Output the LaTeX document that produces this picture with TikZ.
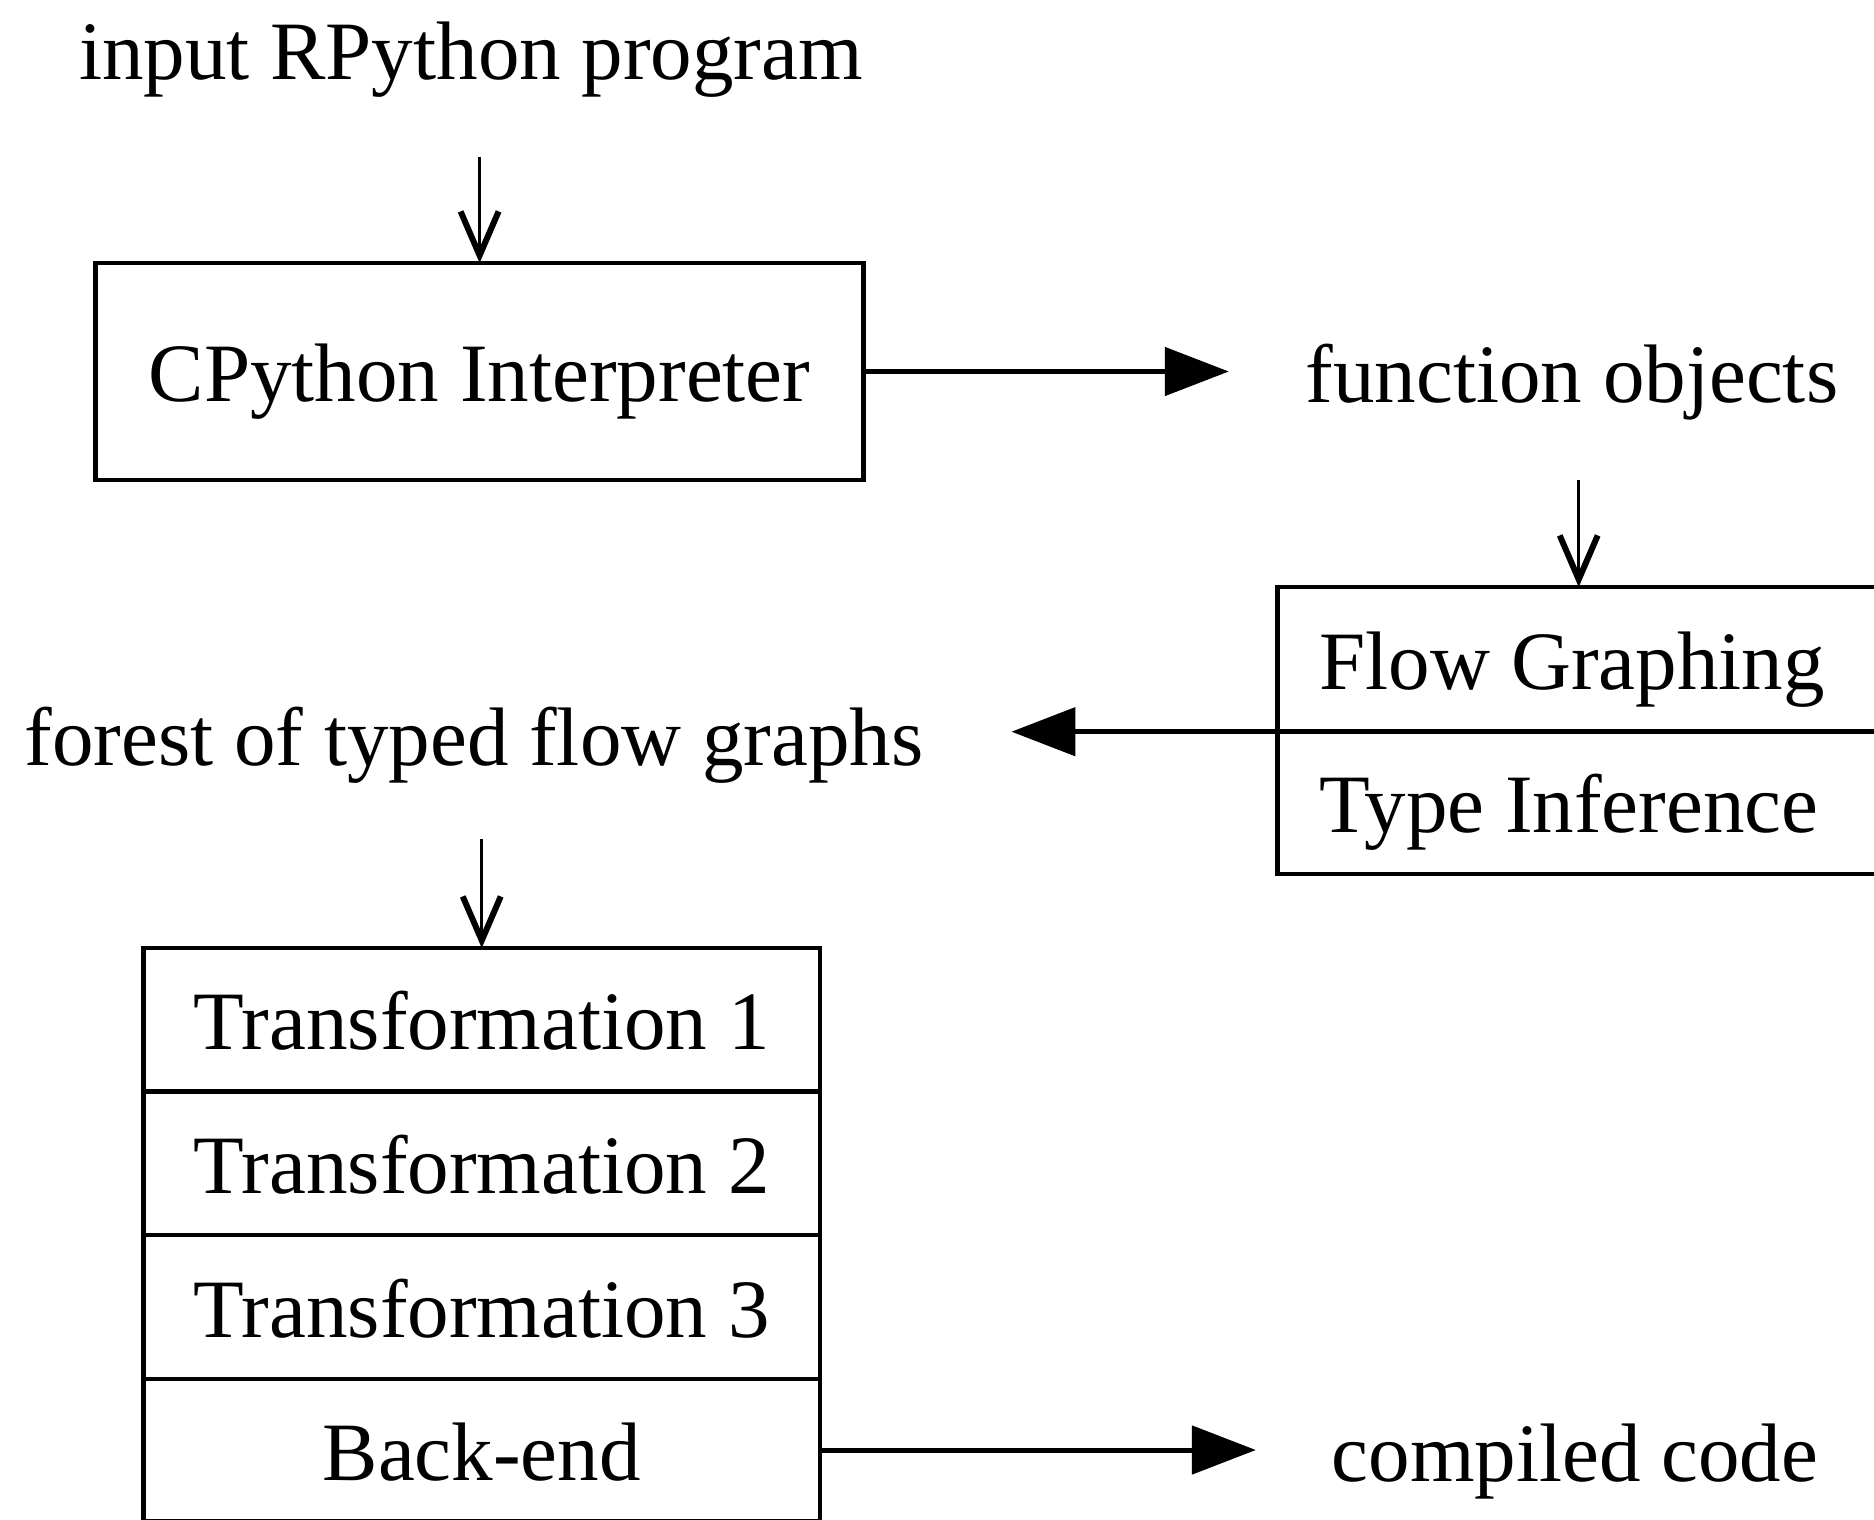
\documentclass[tikz,border=0pt]{standalone}
\usepackage{fontspec}
\setmainfont{Liberation Serif}
\usetikzlibrary{arrows.meta}
\begin{document}
\begin{tikzpicture}[x=1pt,y=-1pt,
  font=\fontsize{83pt}{96pt}\selectfont,
  box/.style={draw, line width=4.5pt, inner sep=0pt, outer sep=0pt, text height=60pt, text depth=0pt, anchor=north west},
  lbl/.style={inner sep=0pt, outer sep=0pt, text height=60pt, text depth=0pt, anchor=base},
  varrow/.style={line width=3.2pt, -{Straight Barb[length=44pt,width=38pt,line width=6pt 0]}},
  harrow/.style={line width=5pt, -{Triangle[length=64pt,width=48pt]}}]
\useasboundingbox (0,0) rectangle (1874,1520);
\clip (0,0) rectangle (1874,1520);
% boxes
\node[box, minimum width=768pt, minimum height=217pt] (cpy) at (95.6,263) {CPython Interpreter};
\node[box, inner xsep=42pt, minimum height=144.7pt] (fg) at (1277.7,587) {\makebox[518pt][l]{Flow Graphing}};
\node[box, inner xsep=42pt, minimum height=142.3pt] (ti) at (fg.south west) {\makebox[518pt][l]{Type Inference}};
\node[box, minimum width=676.5pt, minimum height=143.5pt] (tr1) at (143.5,948) {Transformation 1};
\node[box, minimum width=676.5pt, minimum height=143.5pt] (tr2) at (tr1.south west) {Transformation 2};
\node[box, minimum width=676.5pt, minimum height=144pt] (tr3) at (tr2.south west) {Transformation 3};
\node[box, minimum width=676.5pt, minimum height=142pt] (be) at (tr3.south west) {Back-end};
% labels
\node[lbl] (inp) at (471,80) {input RPython program};
\node[lbl] (fo) at (1572,402.6) {function objects};
\node[lbl] (forest) at (474,765) {forest of typed flow graphs};
\node[lbl] (cc) at (1575,1481.7) {compiled code};
% connectors
\draw[varrow, shorten <=77pt] (inp.south -| cpy.north) -- (cpy.north);
\draw[harrow, shorten >=77pt] (cpy.east) -- (cpy.east -| fo.west);
\draw[varrow, shorten <=77.4pt] (fo.south -| fg.north) -- (fg.north);
\draw[harrow, shorten >=88pt] (fg.south west) -- (fg.south west -| forest.east);
\draw[varrow, shorten <=74pt] (forest.south -| tr1.north) -- (tr1.north);
\draw[harrow, shorten >=76pt] (be.east) -- (be.east -| cc.west);
\end{tikzpicture}
\end{document}
